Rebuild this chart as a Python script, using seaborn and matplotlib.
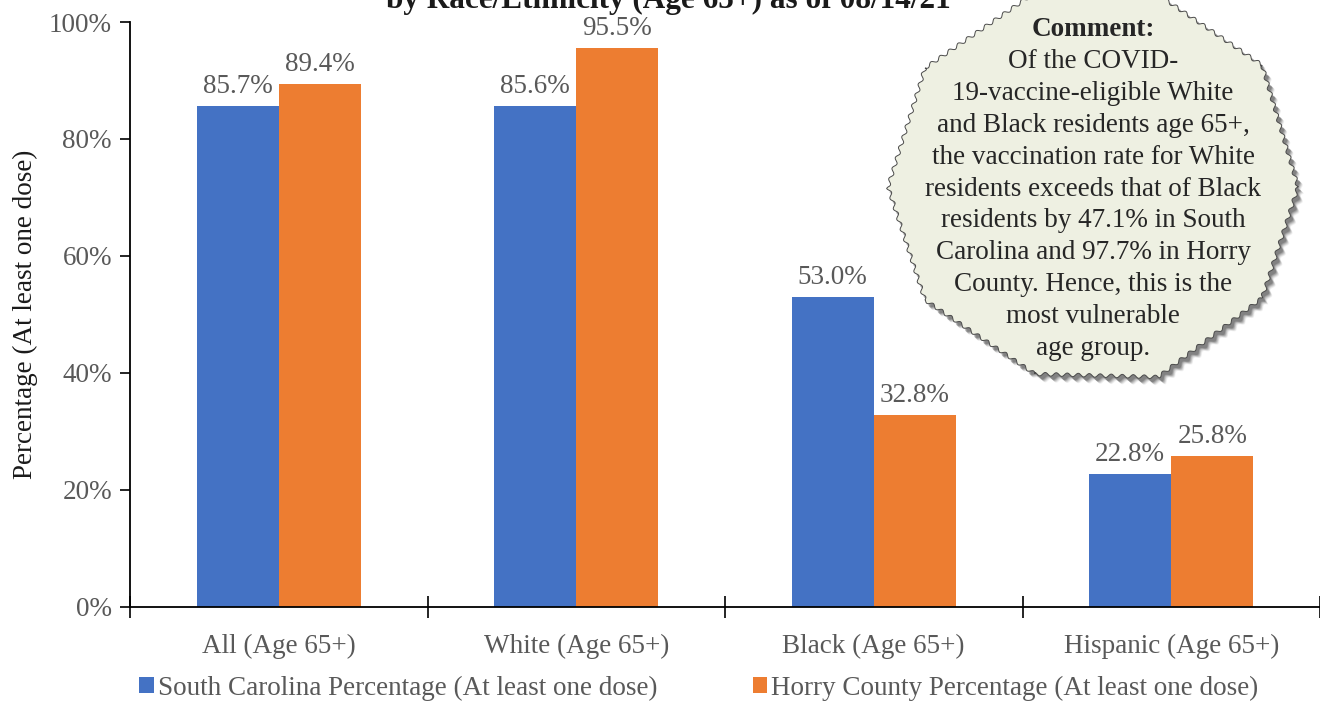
import numpy as np
import pandas as pd
import matplotlib
matplotlib.use("Agg")
import matplotlib.pyplot as plt
from matplotlib.patches import Polygon
from matplotlib.ticker import PercentFormatter, FixedLocator
import seaborn as sns

# Vaccination rate (at least one dose), residents age 65+, as of 08/14/21
categories = ["All (Age 65+)", "White (Age 65+)", "Black (Age 65+)", "Hispanic (Age 65+)"]
south_carolina = [85.7, 85.6, 53.0, 22.8]
horry_county = [89.4, 95.5, 32.8, 25.8]
series_names = ["South Carolina Percentage (At least one dose)",
                "Horry County Percentage (At least one dose)"]
title_text = "by Race/Ethnicity (Age 65+) as of 08/14/21"
comment_lines = [
    "Of the COVID-",
    "19-vaccine-eligible White",
    "and Black residents age 65+,",
    "the vaccination rate for White",
    "residents exceeds that of Black",
    "residents by 47.1% in South",
    "Carolina and 97.7% in Horry",
    "County. Hence, this is the",
    "most vulnerable",
    "age group.",
]

df = pd.DataFrame({
    "category": categories * 2,
    "series": [series_names[0]] * 4 + [series_names[1]] * 4,
    "value": south_carolina + horry_county,
})

sns.set_theme(style="white")
plt.rcParams["font.family"] = ["Liberation Serif", "DejaVu Serif"]

W, H = 1320, 704
fig = plt.figure(figsize=(W / 100, H / 100), dpi=100)
ax = fig.add_axes([130 / W, 1 - 607 / H, (W - 130) / W, (607 - 22) / H])

palette = ["#4472C4", "#ED7D31"]
sns.barplot(data=df, x="category", y="value", hue="series", palette=palette,
            width=0.552, gap=0, saturation=1, ax=ax, edgecolor="none", linewidth=0)

grey = "#595959"
for cont in ax.containers:
    ax.bar_label(cont, fmt="%.1f%%", padding=5, fontsize=19.5, color=grey)

ax.set_xlim(-0.5, 3.5)
ax.set_ylim(0, 100)
ax.yaxis.set_major_locator(FixedLocator([0, 20, 40, 60, 80, 100]))
ax.yaxis.set_major_formatter(PercentFormatter(decimals=0))
ax.tick_params(axis="y", direction="out", length=7, width=1.2, color="black",
               labelsize=19.5, labelcolor=grey, pad=6, left=True)

# category separators as major ticks, labels centred on minor ticks
ax.set_xticks([-0.5, 0.5, 1.5, 2.5, 3.5])
ax.set_xticklabels([])
ax.set_xticks([0, 1, 2, 3], minor=True)
ax.set_xticklabels(categories, minor=True)
ax.tick_params(axis="x", which="major", direction="inout", length=16, width=1.2,
               color="black", bottom=True)
ax.tick_params(axis="x", which="minor", length=0, labelsize=19.5, labelcolor=grey, pad=19)

ax.set_xlabel("")
ax.set_ylabel("Percentage (At least one dose)", fontsize=19.5, color="#1a1a1a", labelpad=8)

for side in ["top", "right"]:
    ax.spines[side].set_visible(False)
for side in ["left", "bottom"]:
    ax.spines[side].set_color("black")
    ax.spines[side].set_linewidth(1.3)
ax.spines["bottom"].set_zorder(5)

sns.move_legend(ax, "center", bbox_to_anchor=(0.5, 0), title=None,
                ncol=2, frameon=False, fontsize=19.5, handlelength=0.55, handleheight=0.55,
                handletextpad=0.15, columnspacing=3.5)
leg = ax.get_legend()
leg.set_bbox_to_anchor((699 / W, 1 - 688 / H), transform=fig.transFigure)
for t in leg.get_texts():
    t.set_color(grey)

# cut-off title line at the very top
fig.text(668 / W, 1 - 8 / H, title_text, ha="center", va="baseline",
         fontsize=22.5, fontweight="bold", color="#1a1a1a")

# wavy-edged comment callout
verts = [(1030, -4), (1160, -4), (1262, 65), (1298, 187), (1262, 298),
         (1158, 377), (1035, 374), (925, 300), (888, 187), (925, 68)]


def wavy_outline(points, step=1.0, wave=11.0, amp=1.8):
    out = []
    n = len(points)
    for i in range(n):
        x0, y0 = points[i]
        x1, y1 = points[(i + 1) % n]
        length = np.hypot(x1 - x0, y1 - y0)
        ux, uy = (x1 - x0) / length, (y1 - y0) / length
        nx, ny = -uy, ux
        s = np.arange(0, length, step)
        off = amp * np.sin(2 * np.pi * s / wave)
        out.extend(zip(x0 + ux * s + nx * off, y0 + uy * s + ny * off))
    return np.array(out)


outline = wavy_outline(verts)
to_fig = lambda pts: np.column_stack([pts[:, 0] / W, 1 - pts[:, 1] / H])
for k, a in zip(range(6, 0, -1), [0.05, 0.07, 0.09, 0.11, 0.13, 0.16]):
    shadow = Polygon(to_fig(outline + np.array([2 + k * 0.6, 3 + k * 0.6])),
                     closed=True, transform=fig.transFigure, facecolor="black",
                     edgecolor="none", alpha=a, zorder=9)
    fig.patches.append(shadow)
box = Polygon(to_fig(outline), closed=True, transform=fig.transFigure,
              facecolor="#EEF0E2", edgecolor="#4a4a4a", linewidth=0.7, zorder=10)
fig.patches.append(box)

cx = 1093
fig.text(cx / W, 1 - 30 / H, "Comment:", ha="center", va="center", fontsize=19.5,
         fontweight="bold", color="#262626", zorder=11)
for i, line in enumerate(comment_lines):
    y = 30 + 31.8 * (i + 1)
    fig.text(cx / W, 1 - y / H, line, ha="center", va="center", fontsize=19.5,
             color="#262626", zorder=11)

fig.savefig("out.png", dpi=100)
